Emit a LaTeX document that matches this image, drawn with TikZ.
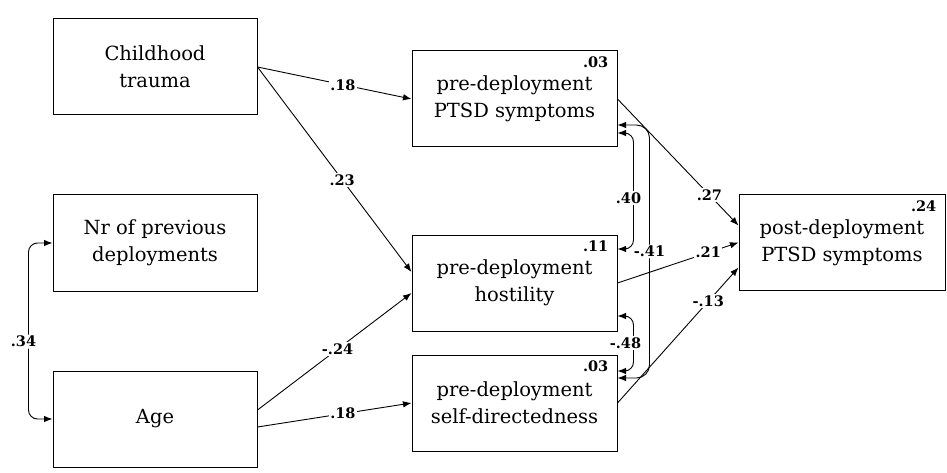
\documentclass[tikz,border=0pt]{standalone}
\usepackage{fontspec}
\setmainfont{DejaVu Serif}
\usetikzlibrary{arrows.meta}
\begin{document}
\begin{tikzpicture}[x=1pt,y=-1pt,
  box/.style={draw, line width=1pt, minimum width=204pt, minimum height=96pt, inner sep=0pt,
     align=center, font=\fontsize{19.5}{27}\selectfont},
  arr/.style={line width=0.9pt, -{Latex[length=8.5pt,width=6.5pt]}},
  cov/.style={line width=0.9pt, {Latex[length=8.5pt,width=6.5pt]}-{Latex[length=8.5pt,width=6.5pt]}, rounded corners=9pt},
  lab/.style={fill=white, inner sep=1.5pt, font=\fontsize{14.5}{16}\bfseries\selectfont},
  rsq/.style={inner sep=0pt, anchor=north east, font=\fontsize{14.5}{16}\bfseries\selectfont}]
\useasboundingbox (0,0) rectangle (947,473);

\node[box] (ct) at (155,67) {Childhood\\trauma};
\node[box] (nr) at (155,243) {Nr of previous\\deployments};
\node[box] (age) at (155,419) {Age};
\node[box, minimum width=205pt] (ptsd) at (514.5,99) {pre-deployment\\PTSD symptoms};
\node[box, minimum width=205pt] (host) at (514.5,283) {pre-deployment\\hostility};
\node[box, minimum width=205pt] (self) at (514.5,403) {pre-deployment\\self-directedness};
\node[box, minimum width=206pt, minimum height=95pt] (post) at (842,242.5) {post-deployment\\PTSD symptoms};

\node[rsq] (r1) at ([shift={(-9,6)}]ptsd.north east) {.03};
\node[rsq] (r2) at ([shift={(-9,6)}]host.north east) {.11};
\node[rsq] (r3) at ([shift={(-9,6)}]self.north east) {.03};
\node[rsq] (r4) at ([shift={(-9,6)}]post.north east) {.24};

% paths
\draw[arr] (ct.east) -- node[lab, pos=0.555] {.18} (ptsd.west);
\draw[arr] (ct.east) -- node[lab, pos=0.55] {.23} ([yshift=11]host.west);
\draw[arr] ([yshift=9]age.east) -- node[lab, pos=0.52] {-.24} ([yshift=-10]host.west);
\draw[arr] ([yshift=-8]age.east) -- node[lab, pos=0.555] {.18} (self.west);
\draw[arr] (ptsd.east) -- node[lab, pos=0.76] {.27} ([yshift=17]post.west);
\draw[arr] (host.east) -- node[lab, pos=0.75] {.21} (post.west);
\draw[arr] (self.east) -- node[lab, pos=0.75] {-.13} ([yshift=-25]post.west);

% covariances
\draw[cov] (nr.west) -- ++(-24,0) |- node[lab, pos=0.28, xshift=-5] {.34} (age.west);
\draw[cov] ([yshift=-34]ptsd.east) -- ++(16,0) |- node[lab, pos=0.28, xshift=-5] {.40} ([yshift=34]host.east);
\draw[cov, rounded corners=13pt] ([yshift=-26]ptsd.east) -- ++(32,0) |- node[lab, pos=0.25] {-.41} ([yshift=25]self.east);
\draw[cov] ([yshift=-33]host.east) -- ++(16,0) |- node[lab, pos=0.245, xshift=-8] {-.48} ([yshift=32]self.east);
\end{tikzpicture}
\end{document}
